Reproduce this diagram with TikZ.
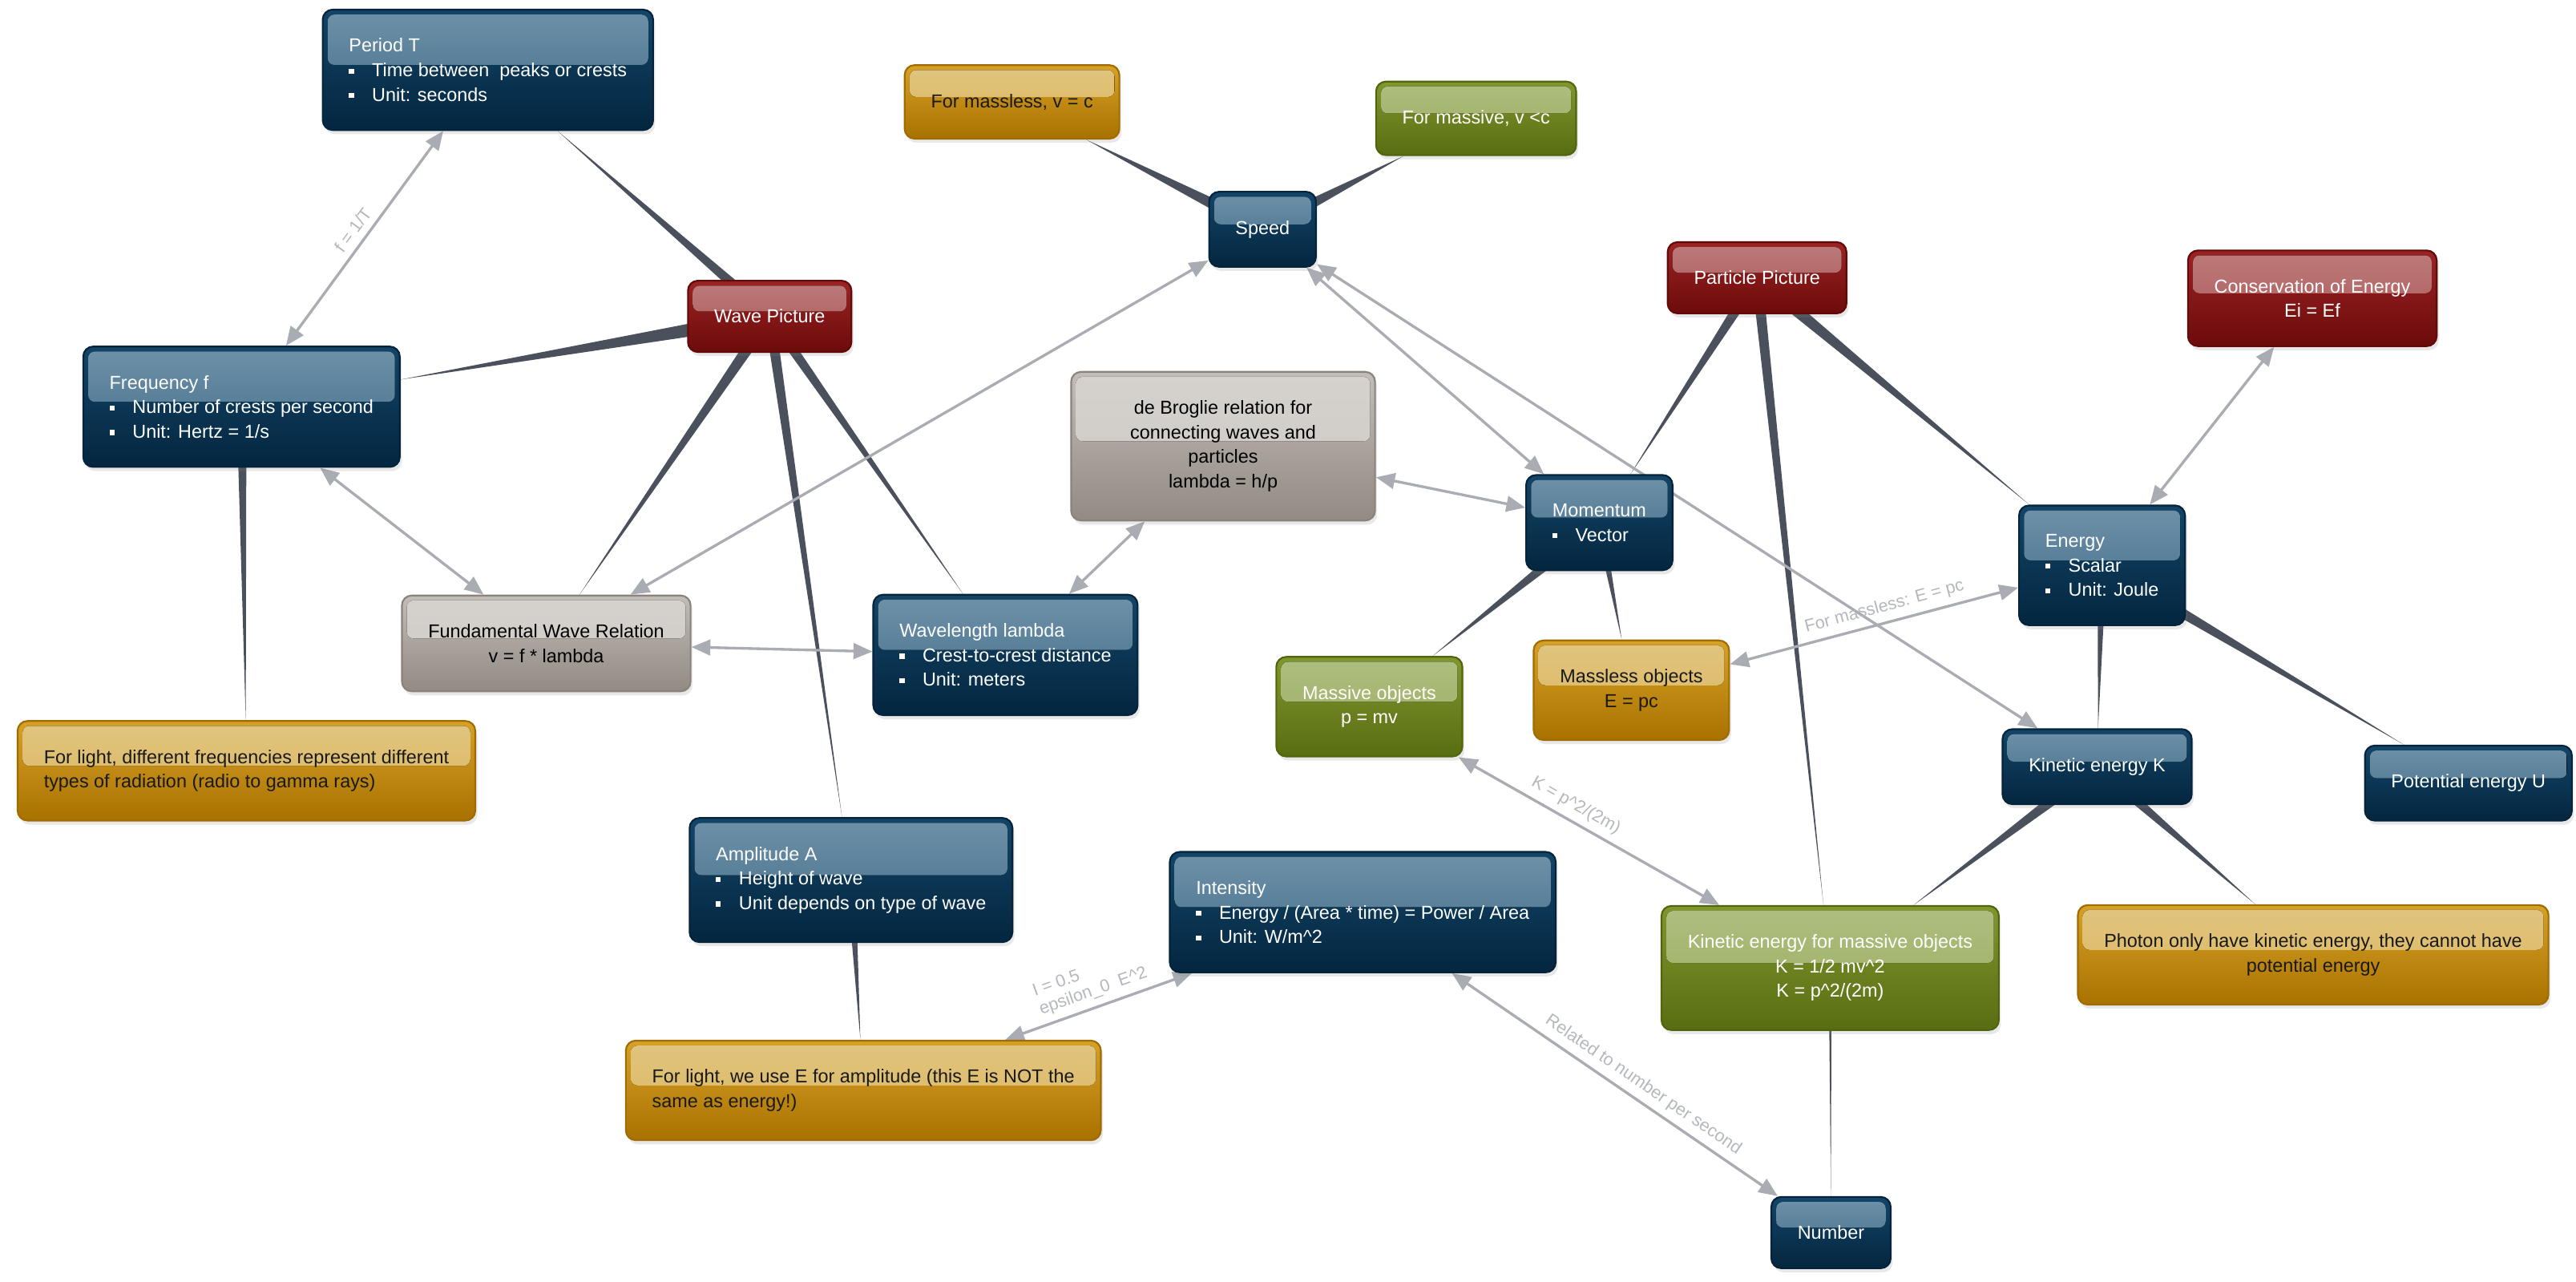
\documentclass[tikz,border=0pt]{standalone}
\usepackage{fontspec}
\setmainfont{Liberation Sans}
\usetikzlibrary{arrows.meta,calc,shadows}
\definecolor{bluetop}{HTML}{124568}
\definecolor{bluebot}{HTML}{04263F}
\definecolor{blueline}{HTML}{05243B}
\definecolor{blueglow}{HTML}{6E91A8}
\definecolor{redtop}{HTML}{9C2323}
\definecolor{redbot}{HTML}{6C0B0B}
\definecolor{redline}{HTML}{620909}
\definecolor{redglow}{HTML}{BC7B7B}
\definecolor{graytop}{HTML}{C2BDB7}
\definecolor{graybot}{HTML}{928A83}
\definecolor{grayline}{HTML}{8A837C}
\definecolor{grayglow}{HTML}{D5D1CD}
\definecolor{orangetop}{HTML}{D6A127}
\definecolor{orangebot}{HTML}{A97200}
\definecolor{orangeline}{HTML}{A06C00}
\definecolor{orangeglow}{HTML}{E0C47F}
\definecolor{greentop}{HTML}{80972F}
\definecolor{greenbot}{HTML}{586D12}
\definecolor{greenline}{HTML}{51650E}
\definecolor{greenglow}{HTML}{AEBE80}
\definecolor{tapergray}{HTML}{4A505C}
\definecolor{arrgray}{HTML}{A9ACB2}
\definecolor{lblgray}{HTML}{B4B7BC}
\pgfdeclarelayer{background}
\pgfsetlayers{background,main}
\newcommand{\itm}{\makebox[5.6mm][l]{\rule[0.3ex]{1.2mm}{1.2mm}}}
\newcommand{\taper}[3][1.5mm]{%
  \path (#2) -- (#3) coordinate[pos=1] (tip);
  \fill[taper] ($(#2.center)!#1!90:(#3.center)$) -- (tip)
    -- ($(#2.center)!#1!-90:(#3.center)$) -- cycle;}
\tikzset{
  every node/.style={font=\fontsize{13}{17}\selectfont},
  box/.style={rounded corners=2.4mm, line width=1.2pt, inner xsep=6.4mm, inner ysep=7mm,
              drop shadow={opacity=0.18, shadow xshift=0.5mm, shadow yshift=-1mm}},
  gloss/.style 2 args={path picture={\fill[top color=#1, bottom color=#2, rounded corners=1.6mm]
      ([shift={(1.2mm,-1.2mm)}]path picture bounding box.north west) rectangle
      ([shift={(-1.2mm,1.2mm)}]path picture bounding box.east);}},
  bluebox/.style={box, draw=blueline, top color=bluetop, bottom color=bluebot,
                  gloss={blueglow}{blueglow!50!bluetop}, text=white, align=left},
  redbox/.style={box, draw=redline, top color=redtop, bottom color=redbot,
                 gloss={redglow}{redglow!55!redtop}, text=white, align=center},
  graybox/.style={box, draw=grayline, top color=graytop, bottom color=graybot,
                  gloss={grayglow}{grayglow!60!graytop}, text=black, align=center},
  orangebox/.style={box, draw=orangeline, top color=orangetop, bottom color=orangebot,
                    gloss={orangeglow}{orangeglow!60!orangetop}, text=black!90, align=center},
  greenbox/.style={box, draw=greenline, top color=greentop, bottom color=greenbot,
                   gloss={greenglow}{greenglow!55!greentop}, text=white, align=center},
  arr/.style={draw=arrgray, line width=0.65mm, >={Triangle[length=4.6mm,width=3.8mm]}, <->},
  lbl/.style={sloped, above=1.2mm, text=lblgray, font=\fontsize{12}{13.5}\selectfont, inner sep=1pt},
  taper/.style={fill=tapergray}
}
\begin{document}
\begin{tikzpicture}[x=0.4mm, y=-0.4mm]
  \useasboundingbox (0,0) rectangle (1568,780);

  \node[bluebox] (period) at (297,42.5) {Period T\\ \itm Time between~ peaks or crests\\ \itm Unit: seconds};
  \node[redbox] (wave) at (468.5,192.5) {Wave Picture};
  \node[bluebox] (freq) at (147,247.5) {Frequency f\\ \itm Number of crests per second\\ \itm Unit: Hertz = 1/s};
  \node[graybox] (fwr) at (332.5,391.5) {Fundamental Wave Relation\\v = f * lambda};
  \node[orangebox, align=left] (lightfreq) at (150,469) {For light, different frequencies represent different\\types of radiation (radio to gamma rays)};
  \node[bluebox] (wavelen) at (612,398.5) {Wavelength lambda\\ \itm Crest-to-crest distance\\ \itm Unit: meters};
  \node[bluebox] (ampl) at (518,535.5) {Amplitude A\\ \itm Height of wave\\ \itm Unit depends on type of wave};
  \node[orangebox, align=left] (lightamp) at (525.5,663.5) {For light, we use E for amplitude (this E is NOT the\\same as energy!)};
  \node[bluebox] (intens) at (829.5,555) {Intensity\\ \itm Energy / (Area * time) = Power / Area\\ \itm Unit: W/m\textasciicircum 2};

  \node[orangebox] (mlessv) at (616,62) {For massless, v = c};
  \node[greenbox] (mivev) at (898.5,72) {For massive, v <c};
  \node[bluebox] (speed) at (768.5,139.5) {Speed};
  \node[graybox, minimum width=74mm] (broglie) at (744.5,271.5) {de Broglie relation for\\connecting waves and\\particles\\lambda = h/p};
  \node[bluebox] (momentum) at (973.5,318) {Momentum\\ \itm Vector};
  \node[greenbox] (massive) at (833.5,430) {Massive objects\\p = mv};
  \node[orangebox] (massless) at (993,420) {Massless objects\\E = pc};

  \node[redbox] (particle) at (1069.5,169) {Particle Picture};
  \node[redbox] (conserv) at (1407.5,181.5) {Conservation of Energy\\Ei = Ef};
  \node[bluebox] (energy) at (1279.5,344) {Energy\\ \itm Scalar\\ \itm Unit: Joule};
  \node[bluebox] (kink) at (1276.5,466.5) {Kinetic energy K};
  \node[bluebox] (potu) at (1502.5,476.5) {Potential energy U};
  \node[greenbox] (kemass) at (1114,589) {Kinetic energy for massive objects\\K = 1/2 mv\textasciicircum 2\\K = p\textasciicircum 2/(2m)};
  \node[orangebox] (photon) at (1408,581) {Photon only have kinetic energy, they cannot have\\potential energy};
  \node[bluebox] (number) at (1114.5,750) {Number};

  \begin{pgfonlayer}{background}
    \taper[1.4mm]{wave}{period}
    \taper[2mm]{wave}{freq}
    \taper[1.5mm]{wave}{fwr}
    \taper[1.3mm]{wave}{ampl}
    \taper[1.3mm]{wave}{wavelen}
    \taper[1.2mm]{freq}{lightfreq}
    \taper[1.1mm]{ampl}{lightamp}
    \taper[1.8mm]{speed}{mlessv}
    \taper[1.8mm]{speed}{mivev}
    \taper[1.4mm]{particle}{momentum}
    \taper[1.3mm]{particle}{kemass}
    \taper[1.6mm]{particle}{energy}
    \taper[1.6mm]{momentum}{massive}
    \taper[1.1mm]{momentum}{massless}
    \taper[1.1mm]{energy}{kink}
    \taper[1.6mm]{energy}{potu}
    \taper[1.6mm]{kink}{kemass}
    \taper[1.4mm]{kink}{photon}
    \taper[0.35mm]{kemass}{number}

    \draw[arr] (period) -- node[lbl] {f = 1/T} (freq);
    \draw[arr] (freq) -- (fwr);
    \draw[arr] (speed) -- (fwr);
    \draw[arr] (fwr) -- (wavelen);
    \draw[arr] (wavelen) -- (broglie);
    \draw[arr] (broglie) -- (momentum);
    \draw[arr] (speed) -- (momentum);
    \draw[arr] (speed) -- (kink);
    \draw[arr] (conserv) -- (energy);
    \draw[arr] (energy) -- node[lbl, pos=0.45] {For massless: E = pc} (massless);
    \draw[arr] (massive) -- node[lbl, pos=0.42] {K = p\textasciicircum 2/(2m)} (kemass);
    \draw[arr] (lightamp) -- node[lbl, align=left] {I = 0.5\\epsilon\_0~ E\textasciicircum 2} (intens);
    \draw[arr] (intens) -- node[lbl, pos=0.56] {Related to number per second} (number);
  \end{pgfonlayer}
\end{tikzpicture}
\end{document}
